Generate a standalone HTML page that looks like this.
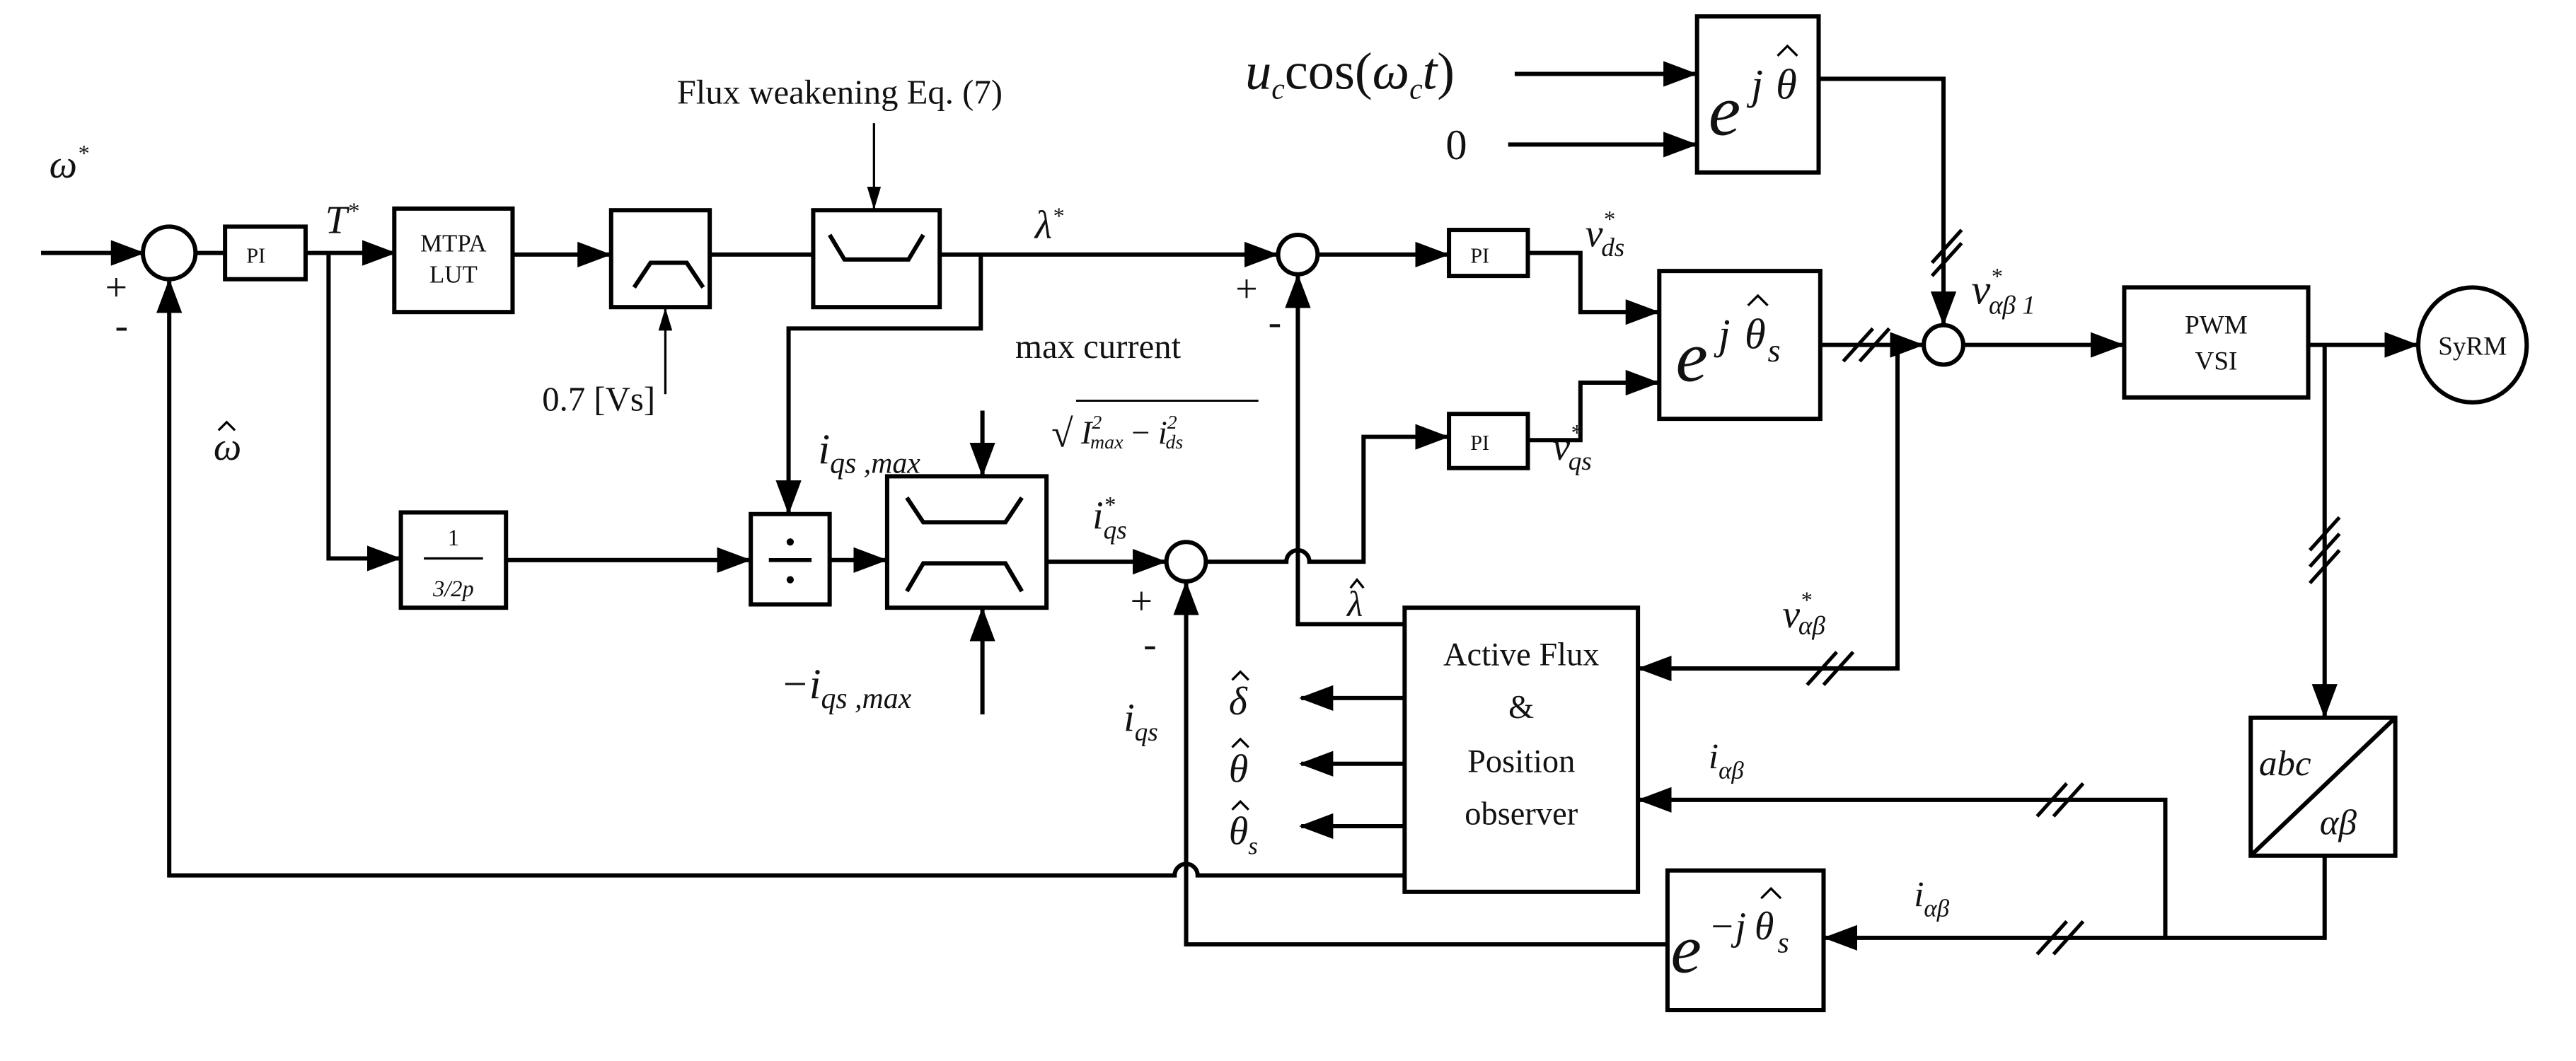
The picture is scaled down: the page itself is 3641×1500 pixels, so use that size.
<!DOCTYPE html>
<html><head><meta charset="utf-8"><style>
html,body{margin:0;padding:0;background:#fff}
svg{display:block}
text{font-family:"Liberation Serif",serif;fill:#111}
.it{font-style:italic}
</style></head><body>
<svg width="3641" height="1500" viewBox="0 0 1568 646" preserveAspectRatio="none" xmlns="http://www.w3.org/2000/svg">
<defs>
<marker id="a" markerWidth="8" markerHeight="6" refX="7.5" refY="3" orient="auto" markerUnits="strokeWidth"><path d="M0,0 L8,3 L0,6 z" fill="#000"/></marker>
<marker id="b" markerWidth="10" markerHeight="6" refX="9.5" refY="3" orient="auto" markerUnits="strokeWidth"><path d="M0,0 L10,3 L0,6 z" fill="#000"/></marker>
</defs>
<g fill="none" stroke="#000" stroke-width="2.6">
<line x1="25" y1="154" x2="87" y2="154" marker-end="url(#a)"/>
<circle cx="103" cy="154" r="16"/>
<line x1="119" y1="154" x2="137" y2="154"/>
<rect x="137" y="138" width="49" height="32"/>
<line x1="186" y1="154" x2="240" y2="154" marker-end="url(#a)"/>
<rect x="240" y="127" width="72" height="63"/>
<line x1="312" y1="155" x2="371" y2="155" marker-end="url(#a)"/>
<rect x="372" y="128" width="60" height="59"/>
<path d="M386,175 L396,160 L418,160 L428,175"/>
<line x1="432" y1="155" x2="495" y2="155"/>
<rect x="495" y="128" width="77" height="59"/>
<path d="M505,143 L514,158 L553,158 L562,143"/>
<line x1="572" y1="155" x2="777" y2="155" marker-end="url(#a)"/>
<circle cx="790" cy="155" r="12"/>
<line x1="802" y1="155" x2="881" y2="155" marker-end="url(#a)"/>
<rect x="882" y="140" width="48" height="28"/>
<path d="M930,154 L962,154 L962,190 L1009,190" marker-end="url(#a)"/>
<rect x="1010" y="165" width="98" height="90"/>
<rect x="882" y="252" width="48" height="33"/>
<path d="M930,268 L962,268 L962,233 L1009,233" marker-end="url(#a)"/>
<rect x="1033" y="10" width="74" height="95"/>
<line x1="922" y1="45" x2="1032" y2="45" marker-end="url(#a)"/>
<line x1="918" y1="88" x2="1032" y2="88" marker-end="url(#a)"/>
<path d="M1107,48 L1183,48 L1183,197" marker-end="url(#a)"/>
<line x1="1108" y1="210" x2="1170" y2="210" marker-end="url(#a)"/>
<circle cx="1183" cy="210" r="12"/>
<line x1="1195" y1="210" x2="1292" y2="210" marker-end="url(#a)"/>
<rect x="1293" y="175" width="112" height="67"/>
<line x1="1405" y1="210" x2="1471" y2="210" marker-end="url(#a)"/>
<ellipse cx="1505" cy="210" rx="33" ry="35"/>
<line x1="1415" y1="210" x2="1415" y2="436" marker-end="url(#a)"/>
<rect x="1370" y="437" width="88" height="84"/>
<line x1="1370" y1="521" x2="1458" y2="437"/>
<path d="M1415,521 L1415,571 L1111,571" marker-end="url(#a)"/>
<path d="M1318,571 L1318,487 L998,487" marker-end="url(#a)"/>
<path d="M1155,210 L1155,407 L998,407" marker-end="url(#a)"/>
<rect x="855" y="370" width="142" height="173"/>
<line x1="855" y1="425" x2="792" y2="425" marker-end="url(#a)"/>
<line x1="855" y1="465" x2="792" y2="465" marker-end="url(#a)"/>
<line x1="855" y1="503" x2="792" y2="503" marker-end="url(#a)"/>
<path d="M855,380 L790,380 L790,168" marker-end="url(#a)"/>
<rect x="1015" y="530" width="95" height="85"/>
<path d="M1015,575 L722,575 L722,355" marker-end="url(#a)"/>
<path d="M855,533 L729,533 A7,7 0 0 0 715,533 L103,533 L103,171" marker-end="url(#a)"/>
<path d="M200,154 L200,340 L243,340" marker-end="url(#a)"/>
<rect x="244" y="312" width="64" height="58"/>
<line x1="308" y1="341" x2="456" y2="341" marker-end="url(#a)"/>
<rect x="457" y="313" width="48" height="55"/>
<path d="M597,155 L597,200 L480,200 L480,312" marker-end="url(#a)"/>
<line x1="505" y1="341" x2="539" y2="341" marker-end="url(#a)"/>
<rect x="540" y="290" width="97" height="80"/>
<path d="M552,303 L562,318 L612,318 L622,303"/>
<path d="M552,360 L562,343 L612,343 L622,360"/>
<line x1="598" y1="250" x2="598" y2="289" marker-end="url(#a)"/>
<line x1="598" y1="435" x2="598" y2="371" marker-end="url(#a)"/>
<line x1="637" y1="342" x2="709" y2="342" marker-end="url(#a)"/>
<circle cx="722" cy="342" r="12"/>
<path d="M734,342 L783,342 A7,7 0 0 1 797,342 L830,342 L830,266 L881,266" marker-end="url(#a)"/>
</g>
<g stroke="#000" stroke-width="1.4" fill="none">
<line x1="405" y1="240" x2="405" y2="188" marker-end="url(#b)"/>
<line x1="532" y1="75" x2="532" y2="127" marker-end="url(#b)"/>
<line x1="258" y1="340" x2="294" y2="340"/>
<!-- hats -->
<path d="M133,262 L138,257 L143,262"/>
<path d="M822,358 L826,353 L830,358"/>
<path d="M750,414 L755,409 L760,414"/>
<path d="M750,455 L755,450 L760,455"/>
<path d="M750,493 L755,488 L760,493"/>
<path d="M1082,34 L1088,28 L1094,34"/>
<path d="M1064,186 L1070,180 L1076,186"/>
<path d="M1072,547 L1078,541 L1084,547"/>
</g>
<g stroke="#000" stroke-width="2.2">
<line x1="1176" y1="160" x2="1194" y2="140"/><line x1="1176" y1="168" x2="1194" y2="148"/>
<line x1="1122" y1="220" x2="1140" y2="200"/><line x1="1132" y1="220" x2="1150" y2="200"/>
<line x1="1100" y1="417" x2="1118" y2="397"/><line x1="1110" y1="417" x2="1128" y2="397"/>
<line x1="1240" y1="497" x2="1258" y2="477"/><line x1="1250" y1="497" x2="1268" y2="477"/>
<line x1="1240" y1="581" x2="1258" y2="561"/><line x1="1250" y1="581" x2="1268" y2="561"/>
<line x1="1406" y1="335" x2="1424" y2="315"/><line x1="1406" y1="345" x2="1424" y2="325"/><line x1="1406" y1="355" x2="1424" y2="335"/>
</g>
<circle cx="481" cy="330" r="2.2"/><circle cx="481" cy="353" r="2.2"/>
<line x1="468" y1="341" x2="494" y2="341" stroke="#000" stroke-width="2.4"/>
<g font-size="20">
<text x="30" y="108" class="it" font-size="24">ω<tspan dy="-10" font-size="14">*</tspan></text>
<text x="64" y="183" font-size="24">+</text>
<text x="70" y="206" font-size="24">-</text>
<text x="150" y="160" font-size="13">PI</text>
<text x="198" y="142" class="it" font-size="24">T<tspan dy="-9" font-size="14">*</tspan></text>
<text x="276" y="153" font-size="15" text-anchor="middle">MTPA</text>
<text x="276" y="172" font-size="15" text-anchor="middle">LUT</text>
<text x="330" y="250" font-size="21">0.7 [Vs]</text>
<text x="412" y="63" font-size="21">Flux weakening Eq. (7)</text>
<text x="630" y="145" class="it" font-size="24">λ<tspan dy="-9" font-size="14">*</tspan></text>
<text x="752" y="184" font-size="24">+</text>
<text x="772" y="204" font-size="24">-</text>
<text x="895" y="160" font-size="13">PI</text>
<text x="895" y="274" font-size="13">PI</text>
<text x="965" y="150" class="it" font-size="24">v<tspan dy="-12" font-size="14">*</tspan><tspan dx="-8" dy="18" font-size="16">ds</tspan></text>
<text x="945" y="280" class="it" font-size="24">v<tspan dy="-12" font-size="14">*</tspan><tspan dx="-8" dy="18" font-size="16">qs</tspan></text>
<text x="1020" y="232" class="it" font-size="44">e</text>
<text x="1046" y="212" class="it" font-size="26">j</text>
<text x="1062" y="212" class="it" font-size="26">θ</text>
<text x="1076" y="220" class="it" font-size="20">s</text>
<text x="1040" y="82" class="it" font-size="44">e</text>
<text x="1066" y="60" class="it" font-size="26">j</text>
<text x="1081" y="60" class="it" font-size="26">θ</text>
<text x="758" y="54" class="it" font-size="32">u<tspan dy="6" font-size="18">c</tspan><tspan dy="-6" font-style="normal">cos(</tspan>ω<tspan dy="6" font-size="18">c</tspan><tspan dy="-6">t</tspan><tspan font-style="normal">)</tspan></text>
<text x="880" y="97" font-size="26">0</text>
<text x="1200" y="185" class="it" font-size="26">v<tspan dy="-12" font-size="14">*</tspan><tspan dx="-8" dy="18" font-size="16">αβ 1</tspan></text>
<text x="1349" y="203" font-size="16" text-anchor="middle">PWM</text>
<text x="1349" y="225" font-size="16" text-anchor="middle">VSI</text>
<text x="1505" y="216" font-size="16" text-anchor="middle">SyRM</text>
<text x="1375" y="472" class="it" font-size="22">abc</text>
<text x="1412" y="508" class="it" font-size="22">αβ</text>
<text x="926" y="405" font-size="20" text-anchor="middle">Active Flux</text>
<text x="926" y="437" font-size="20" text-anchor="middle">&amp;</text>
<text x="926" y="470" font-size="20" text-anchor="middle">Position</text>
<text x="926" y="502" font-size="20" text-anchor="middle">observer</text>
<text x="820" y="375" class="it" font-size="22">λ</text>
<text x="748" y="435" class="it" font-size="24">δ</text>
<text x="748" y="476" class="it" font-size="24">θ</text>
<text x="748" y="514" class="it" font-size="24">θ<tspan font-size="15" dy="6">s</tspan></text>
<text x="1085" y="382" class="it" font-size="24">v<tspan dy="-12" font-size="14">*</tspan><tspan dx="-8" dy="16" font-size="16">αβ</tspan></text>
<text x="1040" y="468" class="it" font-size="22">i<tspan dy="6" font-size="15">αβ</tspan></text>
<text x="1165" y="552" class="it" font-size="22">i<tspan dy="6" font-size="15">αβ</tspan></text>
<text x="1017" y="592" class="it" font-size="42">e</text>
<text x="1040" y="572" class="it" font-size="24">−j</text>
<text x="1068" y="572" class="it" font-size="24">θ</text>
<text x="1082" y="580" class="it" font-size="18">s</text>
<text x="130" y="280" class="it" font-size="24">ω</text>
<text x="276" y="332" font-size="14" text-anchor="middle">1</text>
<text x="276" y="363" class="it" font-size="14" text-anchor="middle">3/2p</text>
<text x="498" y="282" class="it" font-size="26">i<tspan dy="6" font-size="18">qs ,max</tspan></text>
<text x="475" y="425" class="it" font-size="26">−i<tspan dy="6" font-size="18">qs ,max</tspan></text>
<text x="618" y="218" font-size="21">max current</text>
<text x="640" y="272" font-size="24">√</text>
<line x1="655" y1="244" x2="766" y2="244" stroke="#000" stroke-width="1.2"/>
<text x="658" y="270" class="it" font-size="20">I<tspan dy="-9" font-size="12">2</tspan><tspan dx="-7" dy="12" font-size="12">max</tspan><tspan dy="-3" font-style="normal"> − </tspan>i<tspan dy="-9" font-size="12">2</tspan><tspan dx="-7" dy="12" font-size="12">ds</tspan></text>
<text x="665" y="322" class="it" font-size="24">i<tspan dy="-10" font-size="14">*</tspan><tspan dx="-7" dy="16" font-size="16">qs</tspan></text>
<text x="688" y="374" font-size="24">+</text>
<text x="696" y="400" font-size="24">-</text>
<text x="684" y="445" class="it" font-size="24">i<tspan dy="6" font-size="16">qs</tspan></text>
</g>
</svg>
</body></html>
